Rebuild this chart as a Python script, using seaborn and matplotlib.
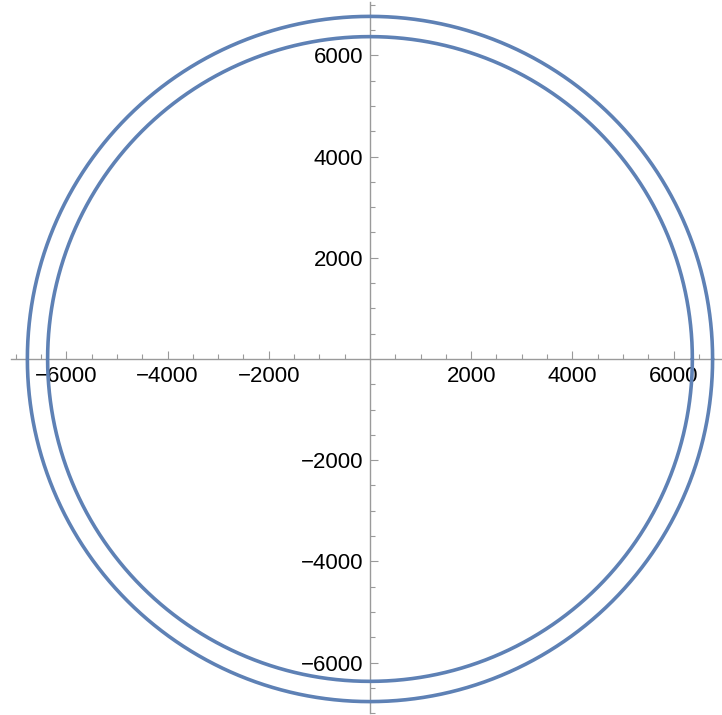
import numpy as np
import pandas as pd
import matplotlib
matplotlib.use("Agg")
import matplotlib.pyplot as plt
from matplotlib.ticker import FixedLocator
import seaborn as sns

# Radii of the two circles (km): Earth's surface and a 400 km orbit
radii = [6371, 6771]
major_ticks = [-6000, -4000, -2000, 2000, 4000, 6000]
minor_ticks = [v for v in range(-7000, 7001, 500) if v != 0 and v % 2000 != 0]

line_color = "#5E81B5"
axis_color = "#9a9a9a"

sns.set_theme(style="white")
plt.rcParams["font.family"] = ["Liberation Sans", "DejaVu Sans"]

theta = np.linspace(0, 2 * np.pi, 721)
frames = []
for r in radii:
    frames.append(pd.DataFrame({"x": r * np.cos(theta), "y": r * np.sin(theta),
                                "t": theta, "radius": r}))
df = pd.concat(frames, ignore_index=True)

fig = plt.figure(figsize=(7.22, 7.15), dpi=100)
ax = fig.add_axes([0, 0, 1, 1])

sns.lineplot(data=df, x="x", y="y", units="radius", estimator=None, sort=False,
             color=line_color, linewidth=2.6, ax=ax, legend=False)

ax.set_xlim(-7312, 6957)
ax.set_ylim(-7036, 7095)

for side in ("top", "right"):
    ax.spines[side].set_visible(False)
ax.spines["bottom"].set_position(("data", 0))
ax.spines["left"].set_position(("data", 0))
ax.spines["bottom"].set_bounds(-7090, 6957)
ax.spines["left"].set_bounds(-7000, 7060)
for side in ("bottom", "left"):
    ax.spines[side].set_color(axis_color)
    ax.spines[side].set_linewidth(1.0)
    ax.spines[side].set_zorder(0)

def fmt(v):
    return f"\u2212{abs(v)}" if v < 0 else f"{v}"

ax.xaxis.set_major_locator(FixedLocator(major_ticks))
ax.yaxis.set_major_locator(FixedLocator(major_ticks))
ax.xaxis.set_minor_locator(FixedLocator(minor_ticks))
ax.yaxis.set_minor_locator(FixedLocator(minor_ticks))
ax.set_xticklabels([fmt(v) for v in major_ticks])
ax.set_yticklabels([fmt(v) for v in major_ticks])

ax.tick_params(which="major", direction="in", length=6, width=0.8,
               color=axis_color, labelsize=16, labelcolor="black", pad=5)
ax.tick_params(which="minor", direction="in", length=3.6, width=0.8,
               color=axis_color)
ax.tick_params(axis="x", which="both", bottom=True, top=False)
ax.tick_params(axis="y", which="both", left=True, right=False)

ax.set_xlabel("")
ax.set_ylabel("")
ax.set_facecolor("white")
ax.patch.set_alpha(0)

fig.savefig("out.png", dpi=100, facecolor="white")
